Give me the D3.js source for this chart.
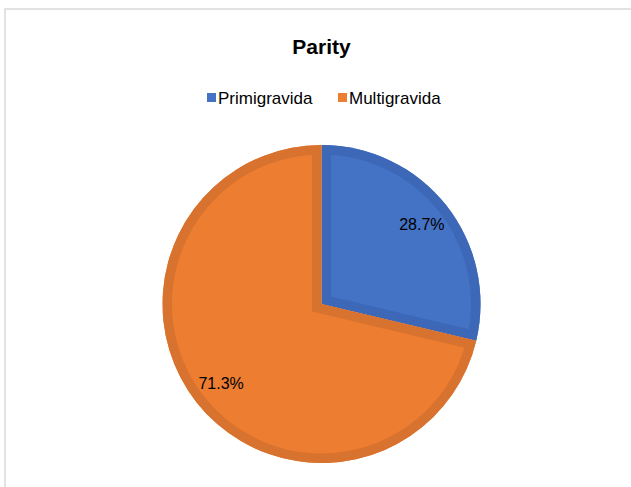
<!DOCTYPE html>
<html>
<head>
<meta charset="utf-8">
<script src="https://cdn.jsdelivr.net/npm/d3@7"></script>
<style>
  html, body { margin: 0; padding: 0; background: #fff; }
  svg { display: block; }
</style>
</head>
<body>
<script>
const title = "Parity";
const categories = ["Primigravida", "Multigravida"];
const values = [28.7, 71.3];
const colors = ["#4472C4", "#ED7D31"];
const edgeColors = ["#3D68B8", "#D8722F"];

const W = 631, H = 487;
const svg = d3.select("body").append("svg").attr("width", W).attr("height", H);

// chart frame
svg.append("rect").attr("x", 5).attr("y", 9).attr("width", W + 10).attr("height", H + 10)
  .attr("fill", "#fff").attr("stroke", "#D9D9D9").attr("stroke-width", 1.5);

svg.append("text").attr("x", 321.5).attr("y", 54).attr("text-anchor", "middle")
  .attr("font-family", "Liberation Sans, Arial, sans-serif").attr("font-weight", "bold")
  .attr("font-size", 21).attr("fill", "#000").text(title);

// legend
const legendX = [207, 338];
const lg = svg.append("g");
categories.forEach((c, i) => {
  lg.append("rect").attr("x", legendX[i]).attr("y", 93).attr("width", 9).attr("height", 9).attr("fill", colors[i]);
  lg.append("text").attr("x", legendX[i] + 11).attr("y", 104)
    .attr("font-family", "Liberation Sans, Arial, sans-serif").attr("font-size", 17)
    .attr("fill", "#000").text(c);
});

const cx = 321.5, cy = 304, r = 159;
const pie = d3.pie().sort(null).value(d => d)(values);
const arc = d3.arc().innerRadius(0).outerRadius(r);
const labelArc = d3.arc().innerRadius(128).outerRadius(128);

const g = svg.append("g").attr("transform", `translate(${cx},${cy})`);
const defs = svg.append("defs");
pie.forEach((p, i) => {
  const id = "clip" + i;
  defs.append("clipPath").attr("id", id).append("path").attr("d", arc(p));
  g.append("path").attr("d", arc(p)).attr("fill", colors[i]);
  g.append("path").attr("d", arc(p)).attr("fill", "none")
    .attr("stroke", edgeColors[i]).attr("stroke-width", 19).attr("stroke-linejoin", "miter")
    .attr("clip-path", `url(#${id})`);
});
pie.forEach((p, i) => {
  const [lx, ly] = labelArc.centroid(p);
  g.append("text").attr("x", lx).attr("y", ly).attr("dy", "0.36em").attr("text-anchor", "middle")
    .attr("font-family", "Liberation Sans, Arial, sans-serif").attr("font-size", 16)
    .attr("fill", "#000").text(values[i].toFixed(1) + "%");
});
</script>
</body>
</html>
